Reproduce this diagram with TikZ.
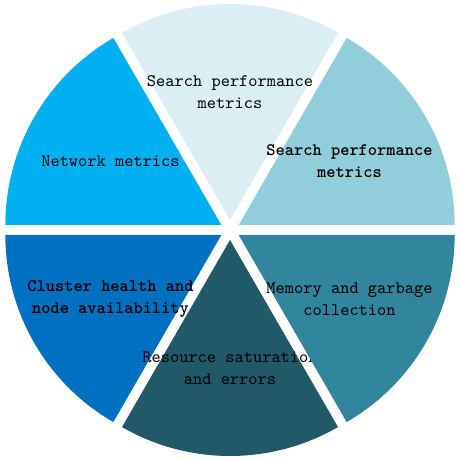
\documentclass[tikz,border=0pt]{standalone}
\usepackage{xcolor}
\usetikzlibrary{positioning,calc}

\definecolor{skyblue}{HTML}{00B0F0}
\definecolor{paleblue}{HTML}{DAEEF3}
\definecolor{iceblue}{HTML}{92CDDC}
\definecolor{royalblue}{HTML}{0070C0}
\definecolor{slateteal}{HTML}{215968}
\definecolor{deepteal}{HTML}{31859C}

\begin{document}
\begin{tikzpicture}[x=0.02cm,y=0.02cm,
		lblreg/.style={align=center,text=black,
			font=\ttfamily\fontsize{10}{12.5}\selectfont},
		lblbold/.style={align=center,text=black,
			font=\ttfamily\bfseries\fontsize{10}{12.5}\selectfont}]
		
		\useasboundingbox (0,0) rectangle (460,460);
		\coordinate (ctr) at (230,230);
		
		% upper left
		\fill[skyblue] ($(ctr)+(150:10)$) -- +(120:216)
		arc[start angle=120,end angle=180,radius=216] -- cycle;
		\node[lblreg] (netw) at ($(ctr)+(150:138)$) {Network metrics};
		
		% top
		\fill[paleblue] ($(ctr)+(90:10)$) -- +(60:216)
		arc[start angle=60,end angle=120,radius=216] -- cycle;
		\node[lblreg] (srchtop) at ($(ctr)+(90:138)$)
		{Search performance\\metrics};
		
		% upper right
		\fill[iceblue] ($(ctr)+(30:10)$) -- +(0:216)
		arc[start angle=0,end angle=60,radius=216] -- cycle;
		\node[lblbold] (srchright) at ($(ctr)+(30:138)$)
		{Search performance\\metrics};
		
		% lower left
		\fill[royalblue] ($(ctr)+(210:10)$) -- +(180:216)
		arc[start angle=180,end angle=240,radius=216] -- cycle;
		\node[lblbold] (clust) at ($(ctr)+(210:138)$)
		{Cluster health and\\node availability};
		
		% bottom
		\fill[slateteal] ($(ctr)+(270:10)$) -- +(240:216)
		arc[start angle=240,end angle=300,radius=216] -- cycle;
		\node[lblreg] (resrc) at ($(ctr)+(270:138)$)
		{Resource saturation\\and errors};
		
		% lower right
		\fill[deepteal] ($(ctr)+(330:10)$) -- +(300:216)
		arc[start angle=300,end angle=360,radius=216] -- cycle;
		\node[lblreg] (memgc) at ($(ctr)+(330:138)$)
		{Memory and garbage\\collection};
		
	\end{tikzpicture}
\end{document}
